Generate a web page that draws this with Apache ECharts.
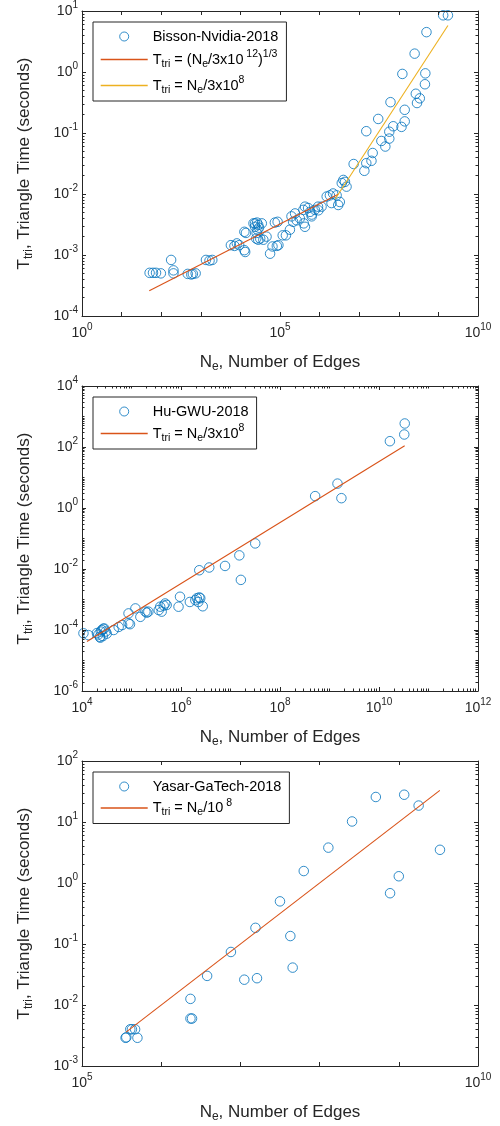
<!DOCTYPE html>
<html><head><meta charset="utf-8">
<script src="https://cdn.jsdelivr.net/npm/echarts@6/dist/echarts.min.js"></script>
<style>html,body{margin:0;padding:0;background:#fff}#c{width:500px;height:1126px}</style>
</head><body><div id="c"></div>
<script>
// ---------- Panel 1: Bisson-Nvidia-2018 ----------
const bissonEdges = [51,62,74,98,178,204,204,468,575,631,741,1350,1660,1950,5750,7080,8130,9330,12600,13200,12600,
  21400,23400,26900,25100,28200,23400,28200,34700,25700,31600,38000,45700,26300,29500,13800,
  56200,64600,83200,91200,74100,87100,117000,141000,178000,214000,195000,240000,263000,316000,389000,427000,513000,575000,631000,759000,912000,1120000,
  398000,427000,631000,933000,1510000,1820000,2190000,2690000,2000000,2950000,3240000,3630000,4370000,4790000,3980000,
  7240000,13500000,15100000,20400000,21900000,15100000,36300000,45700000,57500000,57500000,30200000,72400000,117000000,141000000,
  61700000,141000000,269000000,339000000,288000000,123000000,468000000,457000000,251000000,500000000,1320000000,1740000000];
const bissonTime = [5.1e-4,5.1e-4,5.1e-4,5.0e-4,8.3e-4,5.6e-4,5.0e-4,4.9e-4,4.8e-4,4.9e-4,5.0e-4,8.3e-4,8.1e-4,8.3e-4,1.45e-3,1.41e-3,1.55e-3,1.45e-3,1.2e-3,1.12e-3,2.4e-3,
  3.3e-3,2.9e-3,2.6e-3,1.86e-3,1.78e-3,3.3e-3,3.1e-3,3.3e-3,2.3e-3,1.86e-3,1.78e-3,2.0e-3,3.4e-3,2.8e-3,2.3e-3,
  1.05e-3,1.38e-3,1.41e-3,1.45e-3,3.4e-3,3.5e-3,2.1e-3,2.1e-3,2.6e-3,3.5e-3,4.3e-3,4.8e-3,3.7e-3,4.0e-3,5.5e-3,6.2e-3,5.9e-3,5.1e-3,4.6e-3,5.5e-3,6.2e-3,6.2e-3,
  3.3e-3,2.9e-3,4.3e-3,5.4e-3,9.1e-3,9.5e-3,1.02e-2,9.5e-3,7.1e-3,6.6e-3,7.4e-3,1.51e-2,1.58e-2,1.32e-2,1.7e-2,
  3.1e-2,2.4e-2,3.2e-2,3.5e-2,4.7e-2,0.107,0.074,0.060,0.081,0.105,0.17,0.129,0.126,0.155,
  0.32,0.24,0.44,0.37,0.31,0.93,0.95,0.63,2.0,4.5,8.5,8.5];
const bissonFit1Edges = [50, 2.95e6];
const bissonFit1Time = [2.6e-4, 9.9e-3];
const bissonFit2Edges = [2.45e6, 1.74e9];
const bissonFit2Time = [8.2e-3, 5.8];
const p1XLabelVals = [1, 1e5, 1e10];
const p1YLabelVals = [1e-4, 1e-3, 1e-2, 1e-1, 1, 10];

// ---------- Panel 2: Hu-GWU-2018 ----------
const huEdges = [10700,13500,20000,21400,22900,24000,25100,26900,28200,30200,26300,23400,31600,43700,55000,64600,87100,87100,93300,
  120000,151000,191000,219000,204000,355000,380000,407000,479000,513000,447000,891000,955000,
  1510000,1950000,2090000,2450000,2240000,2340000,2750000,2340000,3720000,7760000,15100000,16200000,31600000,
  513000000,1450000000,1740000000,16600000000,32400000000,33100000000];
const huTime = [7.8e-5,6.8e-5,7.9e-5,7.1e-5,6.0e-5,8.9e-5,1.0e-4,1.1e-4,1.12e-4,8.9e-5,6.3e-5,5.6e-5,7.6e-5,1.0e-4,1.26e-4,1.45e-4,1.66e-4,3.5e-4,1.55e-4,
  5.1e-4,2.7e-4,4.0e-4,4.0e-4,3.7e-4,4.5e-4,5.8e-4,4.0e-4,7.4e-4,6.6e-4,6.3e-4,5.8e-4,1.23e-3,
  8.3e-4,9.5e-4,1.1e-3,1.1e-3,8.3e-4,1.17e-3,6.0e-4,9.1e-3,1.12e-2,1.26e-2,2.8e-2,4.4e-3,6.9e-2,
  2.45,6.3,2.1,155,257,590];
const huFitEdges = [1.26e4, 3.3e10];
const huFitTime = [4.2e-5, 110];
const p2XLabelVals = [1e4, 1e6, 1e8, 1e10, 1e12];
const p2YLabelVals = [1e-6, 1e-4, 1e-2, 1, 1e2, 1e4];

// ---------- Panel 3: Yasar-GaTech-2018 ----------
const yasarEdges = [355000,363000,407000,427000,468000,501000,2340000,2340000,2450000,3800000,7590000,11200000,15500000,16200000,
  31600000,42700000,45700000,63100000,129000000,257000000,513000000,776000000,1000000000,1170000000,1780000000,3310000000];
const yasarTime = [2.9e-3,2.95e-3,4.0e-3,4.0e-3,4.0e-3,2.9e-3,1.26e-2,6.0e-3,6.0e-3,3.0e-2,7.4e-2,2.6e-2,0.184,2.75e-2,
  0.50,0.135,0.041,1.57,3.8,10.2,25.7,0.68,1.29,28,18.6,3.5];
const yasarFitEdges = [3.6e5, 3.3e9];
const yasarFitTime = [3.6e-3, 33];
const p3XLabelVals = [1e5, 1e10];
const p3YLabelVals = [1e-3, 1e-2, 1e-1, 1, 10, 100];

// ---------- styling ----------
const FONT = '"Liberation Sans", Arial, Helvetica, sans-serif';
const AX = '#262626';
const BLUE = '#0072BD', RED = '#D95319', YEL = '#EDB120';

function decades(a, b) { const r = []; for (let e = a; e <= b; e++) r.push(Math.pow(10, e)); return r; }
function minors(a, b) { const r = []; for (let e = a; e < b; e++) for (let k = 2; k <= 9; k++) r.push(k * Math.pow(10, e)); return r; }
function without(all, some) { return all.filter(v => !some.some(s => Math.abs(Math.log10(v) - Math.log10(s)) < 1e-6)); }

const tickRich = {
  b: {fontSize: 14, fontFamily: FONT, color: AX, lineHeight: 22},
  sup: {fontSize: 10, fontFamily: FONT, color: AX, lineHeight: 22, padding: [0, 0, 12, 0]}
};
function expFmt(v) { const e = Math.round(Math.log10(v)); return '{b|10}{sup|' + e + '}'; }

const nameRich = {
  i: {fontSize: 17, fontFamily: FONT, color: AX, lineHeight: 24},
  sub: {fontSize: 12, fontFamily: FONT, color: AX, lineHeight: 24, padding: [10, 0, 0, 0]}
};

function mkAxis(dim, grid, min, max, opts) {
  const isX = dim === 'x';
  const base = {
    type: 'log', logBase: 10, gridIndex: grid, min: min, max: max,
    position: opts.pos, splitLine: {show: false}, z: 5,
    axisLine: {show: !!opts.line, onZero: false, lineStyle: {color: AX, width: 1}},
    axisTick: {show: true, inside: true, length: opts.tickLen || 4, customValues: opts.ticks, lineStyle: {color: AX, width: 1}},
    axisLabel: opts.labels ? {show: true, customValues: opts.labels, formatter: expFmt, rich: tickRich, margin: isX ? 6 : 4, color: AX, hideOverlap: false, showMinLabel: true, showMaxLabel: true}
                           : {show: false},
    axisPointer: {show: false}
  };
  if (opts.name) {
    base.name = opts.name; base.nameLocation = 'middle'; base.nameGap = opts.nameGap;
    base.nameTextStyle = {rich: nameRich, fontSize: 17, fontFamily: FONT, color: AX};
  }
  return base;
}

const xName = '{i|N}{sub|e}{i|, Number of Edges}';
const yName = '{i|T}{sub|tri}{i|, Triangle Time (seconds)}';

const panels = [
  {x: [1, 1e10], y: [1e-4, 10], xl: p1XLabelVals, yl: p1YLabelVals, xMaj: decades(0, 10), xMin: null, yMaj: decades(-4, 1), yMin: minors(-4, 1)},
  {x: [1e4, 1e12], y: [1e-6, 1e4], xl: p2XLabelVals, yl: p2YLabelVals, xMaj: p2XLabelVals, xMin: without(decades(4,12), p2XLabelVals).concat(minors(4, 12)), yMaj: p2YLabelVals, yMin: without(decades(-6,4), p2YLabelVals).concat(minors(-6, 4))},
  {x: [1e5, 1e10], y: [1e-3, 100], xl: p3XLabelVals, yl: p3YLabelVals, xMaj: decades(5, 10), xMin: null, yMaj: decades(-3, 2), yMin: minors(-3, 2)}
];

const grids = [], xAxes = [], yAxes = [];
const tops = [11, 386, 761];
const axisIdx = [];
panels.forEach((p, g) => {
  grids.push({left: 82, top: tops[g], width: 396, height: 305, show: false});
  const xi = xAxes.length, yi = yAxes.length;
  axisIdx.push({x: xi, y: yi});
  xAxes.push(mkAxis('x', g, p.x[0], p.x[1], {pos: 'bottom', line: true, ticks: p.xMaj, labels: p.xl, name: xName, nameGap: 34}));
  xAxes.push(mkAxis('x', g, p.x[0], p.x[1], {pos: 'top', line: true, ticks: p.xMaj}));
  if (p.xMin) {
    xAxes.push(mkAxis('x', g, p.x[0], p.x[1], {pos: 'bottom', ticks: p.xMin, tickLen: 2.5}));
    xAxes.push(mkAxis('x', g, p.x[0], p.x[1], {pos: 'top', ticks: p.xMin, tickLen: 2.5}));
  }
  yAxes.push(mkAxis('y', g, p.y[0], p.y[1], {pos: 'left', line: true, ticks: p.yMaj, labels: p.yl, name: yName, nameGap: 46}));
  yAxes.push(mkAxis('y', g, p.y[0], p.y[1], {pos: 'right', line: true, ticks: p.yMaj}));
  if (p.yMin) {
    yAxes.push(mkAxis('y', g, p.y[0], p.y[1], {pos: 'left', ticks: p.yMin, tickLen: 2.5}));
    yAxes.push(mkAxis('y', g, p.y[0], p.y[1], {pos: 'right', ticks: p.yMin, tickLen: 2.5}));
  }
});

function zip(a, b) { return a.map((v, i) => [v, b[i]]); }
function scatter(name, g, xs, ys) {
  return {type: 'scatter', name: name, xAxisIndex: axisIdx[g].x, yAxisIndex: axisIdx[g].y, data: zip(xs, ys),
    symbol: 'circle', symbolSize: 9.5, itemStyle: {color: 'rgba(0,0,0,0)', borderColor: BLUE, borderWidth: 1}, emphasis: {disabled: true}, z: 2};
}
function fit(name, g, xs, ys, color) {
  return {type: 'line', name: name, xAxisIndex: axisIdx[g].x, yAxisIndex: axisIdx[g].y, data: zip(xs, ys),
    symbol: 'none', showSymbol: false, color: color, lineStyle: {color: color, width: 1.1}, itemStyle: {color: color}, emphasis: {disabled: true}, z: 3, animation: false};
}

const fitColors = {fitA: RED, fitB: YEL, fitC: RED, fitD: RED};
const legendText = {
  'Bisson-Nvidia-2018': '{t|Bisson-Nvidia-2018}',
  'fitA': '{t|T}{sub|tri}{t| = (N}{sub|e}{t|/3x10}{sup| 12}{t|)}{sup|1/3}',
  'fitB': '{t|T}{sub|tri}{t| = N}{sub|e}{t|/3x10}{sup|8}',
  'Hu-GWU-2018': '{t|Hu-GWU-2018}',
  'fitC': '{t|T}{sub|tri}{t| = N}{sub|e}{t|/3x10}{sup|8}',
  'Yasar-GaTech-2018': '{t|Yasar-GaTech-2018}',
  'fitD': '{t|T}{sub|tri}{t| = N}{sub|e}{t|/10}{sup| 8}'
};
const legRich = {
  t: {fontSize: 14.5, fontFamily: FONT, color: '#000', lineHeight: 24},
  sub: {fontSize: 10.5, fontFamily: FONT, color: '#000', lineHeight: 24, padding: [9, 0, 0, 0]},
  sup: {fontSize: 10.5, fontFamily: FONT, color: '#000', lineHeight: 24, padding: [0, 0, 10, 0]}
};
function legend(items, top, gap) {
  return {data: items.map(n => fitColors[n]
      ? {name: n, itemStyle: {opacity: 0}, lineStyle: {color: fitColors[n], width: 1.4, opacity: 1}}
      : {name: n, itemStyle: {color: 'rgba(0,0,0,0)', borderColor: BLUE, borderWidth: 1}}),
    orient: 'vertical', left: 93, top: top, itemWidth: 47, itemHeight: 9, itemGap: gap,
    padding: [7, 8, 5, 7], borderColor: AX, borderWidth: 1, backgroundColor: '#fff', selectedMode: false,
    textStyle: {fontSize: 14.5, fontFamily: FONT, color: '#000', rich: legRich},
    formatter: n => legendText[n]};
}

const chart = echarts.init(document.getElementById('c'), null, {renderer: 'canvas'});
chart.setOption({
  animation: false,
  backgroundColor: '#fff',
  grid: grids, xAxis: xAxes, yAxis: yAxes,
  legend: [legend(['Bisson-Nvidia-2018', 'fitA', 'fitB'], 22, 5), legend(['Hu-GWU-2018', 'fitC'], 397, 4), legend(['Yasar-GaTech-2018', 'fitD'], 772, 3.5)],
  series: [
    scatter('Bisson-Nvidia-2018', 0, bissonEdges, bissonTime),
    fit('fitA', 0, bissonFit1Edges, bissonFit1Time, RED),
    fit('fitB', 0, bissonFit2Edges, bissonFit2Time, YEL),
    scatter('Hu-GWU-2018', 1, huEdges, huTime),
    fit('fitC', 1, huFitEdges, huFitTime, RED),
    scatter('Yasar-GaTech-2018', 2, yasarEdges, yasarTime),
    fit('fitD', 2, yasarFitEdges, yasarFitTime, RED)
  ]
});
</script></body></html>
